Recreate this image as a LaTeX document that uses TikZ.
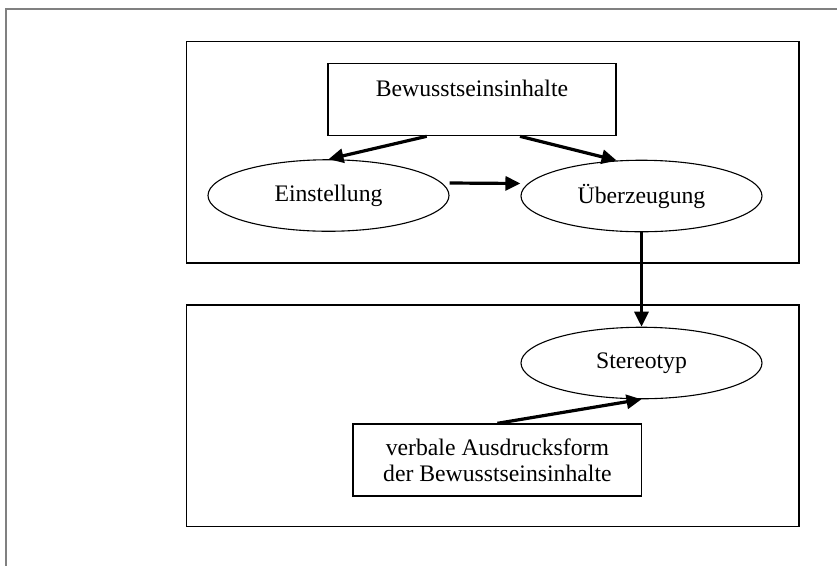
\documentclass[tikz,border=0pt]{standalone}
\usepackage{fontspec}
\setmainfont{Liberation Serif}
\usetikzlibrary{shapes.geometric,arrows.meta}
\begin{document}
\begin{tikzpicture}[x=1pt,y=-1pt,
  every node/.style={font=\fontsize{23.7}{27.5}\selectfont, inner sep=0pt},
  frame/.style={draw=black!50, line width=1.2pt},
  group/.style={draw, line width=1.5pt, rectangle, anchor=north west},
  textbox/.style={draw, line width=1.4pt, rectangle, align=center},
  oval/.style={draw, line width=1.1pt, ellipse, minimum width=241pt, minimum height=71.5pt},
  link/.style={line width=3.2pt, -{Triangle[length=15pt,width=14pt]}}
]
\useasboundingbox (0,0) rectangle (837,566);

% page frame (top and left edges)
\coordinate (ftl) at (6,9);
\coordinate (ftr) at (837,9);
\coordinate (fbl) at (6,566);
\draw[frame] (ftr) -- (ftl) -- (fbl);

% two grouping panels
\node[group, minimum width=612.5pt, minimum height=221.5pt] (upper) at (185.5,40.5) {};
\node[group, minimum width=612.5pt, minimum height=221.5pt] (lower) at (185.5,304.2) {};

% upper panel contents
\node[textbox, minimum width=288pt, minimum height=72pt,
      label={[yshift=11.5pt]center:Bewusstseinsinhalte}] (bew) at (472,99.6) {};
\node[oval] (einst) at (328.5,195.5) {Einstellung};
\node[oval] (ueb) at (641.5,196) {Überzeugung};

% lower panel contents
\node[oval] (ster) at (641.5,363) {Stereotyp};
\node[textbox, minimum width=288.5pt, minimum height=72pt,
      label={[yshift=-2.5pt]center:{\begin{tabular}{@{}c@{}}verbale Ausdrucksform\\[-1.5pt]der Bewusstseinsinhalte\end{tabular}}}] (verb) at (497.4,460) {};

% connectors
\draw[link] ([xshift=-45.3pt]bew.south) -- (einst.north);
\draw[link] ([xshift=48pt]bew.south) -- (ueb.125);
\draw[link] ([yshift=12.5pt]einst.east) -- ([yshift=12.5pt]ueb.west);
\draw[link] (ueb.south) -- (ster.north);
\draw[link] (verb.north) -- (ster.south);
\end{tikzpicture}
\end{document}
